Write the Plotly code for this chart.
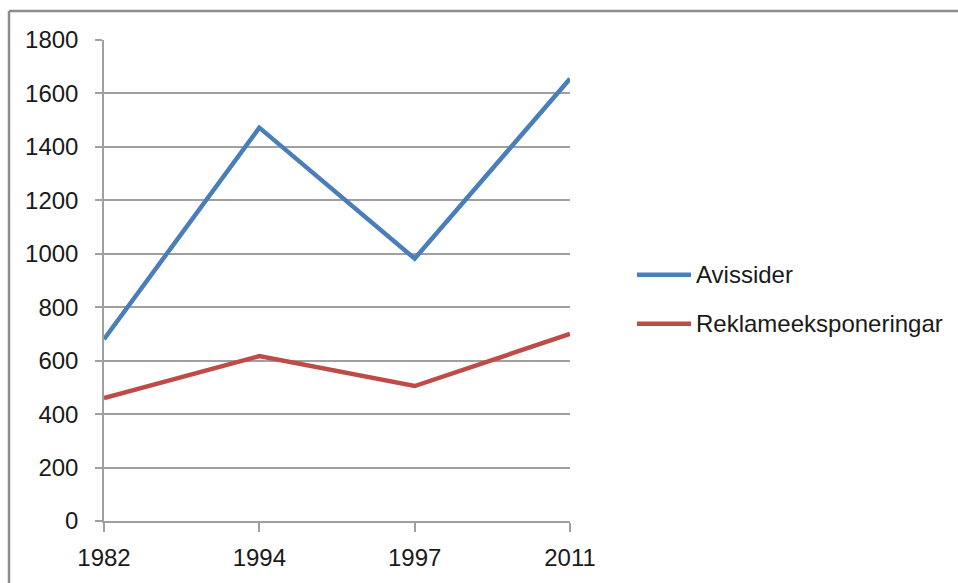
import plotly.graph_objects as go

# Data
years = ["1982", "1994", "1997", "2011"]
avissider = [680, 1472, 982, 1655]
reklame = [460, 617, 505, 700]
series_names = ["Avissider", "Reklameeksponeringar"]
series_colors = ["#4A7EBB", "#BE4B48"]
y_ticks = [0, 200, 400, 600, 800, 1000, 1200, 1400, 1600, 1800]

W, H = 958, 583
L, R, T, B = 104, 388, 40, 61.5
pw, ph = W - L - R, H - T - B


def px_x(px):
    return (px - L) / pw


def px_y(py):
    return (H - B - py) / ph


font = dict(family="Liberation Sans, Arial, sans-serif", size=24, color="#1a1a1a")

fig = go.Figure()
for name, vals, col in zip(series_names, [avissider, reklame], series_colors):
    fig.add_trace(go.Scatter(
        x=years, y=vals, mode="lines", name=name,
        line=dict(color=col, width=4.5), showlegend=False,
    ))

shapes = [
    # outer chart frame (top and left edges)
    dict(type="line", xref="paper", yref="paper", x0=px_x(9), x1=px_x(965),
         y0=px_y(11), y1=px_y(11), line=dict(color="#8c8c8c", width=2.5)),
    dict(type="line", xref="paper", yref="paper", x0=px_x(9), x1=px_x(9),
         y0=px_y(11), y1=px_y(600), line=dict(color="#8c8c8c", width=2.5)),
]
annotations = []
legend_y = [275, 324]
for name, col, ly in zip(series_names, series_colors, legend_y):
    shapes.append(dict(type="line", xref="paper", yref="paper",
                       x0=px_x(637), x1=px_x(691), y0=px_y(ly), y1=px_y(ly),
                       line=dict(color=col, width=4.5)))
    annotations.append(dict(xref="paper", yref="paper", x=px_x(694), y=px_y(ly),
                            text=name, showarrow=False, xanchor="left",
                            yanchor="middle", font=font))

fig.update_layout(
    width=W, height=H,
    margin=dict(l=L, r=R, t=T, b=B),
    paper_bgcolor="white", plot_bgcolor="white",
    font=font,
    shapes=shapes, annotations=annotations,
    xaxis=dict(
        type="category", range=[0, 3], showgrid=False,
        showline=True, linecolor="#a0a0a0", linewidth=1.5,
        ticks="outside", ticklen=9, tickcolor="#a0a0a0", tickwidth=1.5,
        ticklabelstandoff=5, tickfont=font, zeroline=False,
    ),
    yaxis=dict(
        range=[0, 1800], tickvals=y_ticks, showgrid=True,
        gridcolor="#a0a0a0", gridwidth=1.5,
        showline=True, linecolor="#a0a0a0", linewidth=1.5,
        ticks="outside", ticklen=7, tickcolor="#a0a0a0", tickwidth=1.5,
        ticklabelstandoff=12, tickfont=font, zeroline=False,
    ),
)

fig.write_html("out.html")
